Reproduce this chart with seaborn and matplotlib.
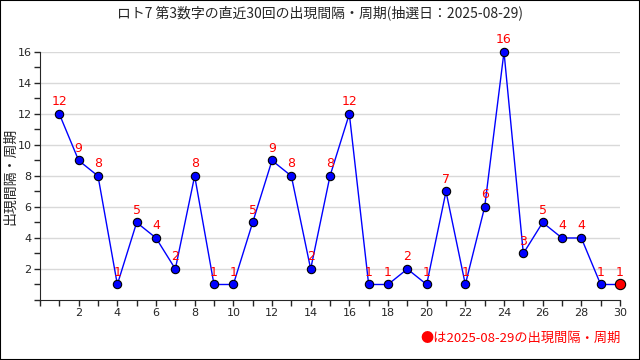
import pandas as pd
import matplotlib.pyplot as plt
import seaborn as sns
from matplotlib.ticker import MultipleLocator

sns.set_style("ticks")
plt.rcParams['font.family'] = ['Noto Sans CJK JP', 'DejaVu Sans']

# data
draws = list(range(1, 31))
intervals = [12, 9, 8, 1, 5, 4, 2, 8, 1, 1, 5, 9, 8, 2, 8, 12, 1, 1, 2, 1,
             7, 1, 6, 16, 3, 5, 4, 4, 1, 1]
title = "ロト7 第3数字の直近30回の出現間隔・周期(抽選日：2025-08-29)"
ylabel = "出現間隔・周期"
note = "●は2025-08-29の出現間隔・周期"

df = pd.DataFrame({'draw': draws, 'interval': intervals})

fig = plt.figure(figsize=(6.4, 3.6), dpi=100)
ax = fig.add_axes([0.0625, 0.1667, 0.90625, 0.6889])

sns.lineplot(data=df, x='draw', y='interval', ax=ax, color='blue', linewidth=1,
             marker='o', markersize=6, markerfacecolor='blue',
             markeredgecolor='black', markeredgewidth=0.8, clip_on=False)
last = df.iloc[[-1]]
ax.scatter(last['draw'], last['interval'], s=55, color='red',
           edgecolor='black', linewidth=0.8, zorder=5, clip_on=False)

for x, y in zip(draws, intervals):
    ax.annotate(str(y), (x, y), xytext=(0, 4), textcoords='offset points',
                ha='center', va='bottom', color='red', fontsize=9,
                family='DejaVu Sans', annotation_clip=False)

ax.set_xlim(0, 30)
ax.set_ylim(0, 16)
ax.xaxis.set_minor_locator(MultipleLocator(1))
ax.yaxis.set_minor_locator(MultipleLocator(1))
ax.set_yticks(range(2, 17, 2))
ax.set_xticks(range(2, 31, 2))
ax.tick_params(axis='both', which='major', length=4, labelsize=8, width=1, pad=2)
ax.tick_params(axis='both', which='minor', length=4, width=1)
ax.grid(axis='y', which='major', color='#d9d9d9', linewidth=1)
ax.set_axisbelow(True)
for lab in ax.get_xticklabels() + ax.get_yticklabels():
    lab.set_family('DejaVu Sans')

sns.despine(ax=ax)
ax.set_xlabel('')
ax.set_ylabel(ylabel, fontsize=10)
ax.yaxis.set_label_coords(-0.04, 0.5)

fig.text(0.5, 0.965, title, ha='center', va='center', fontsize=10)
fig.text(0.97, 0.06, note, ha='right', va='center', fontsize=9.5, color='red')
fig.patches.append(plt.Rectangle((0, 0), 1, 1, transform=fig.transFigure,
                                 fill=False, edgecolor='black', linewidth=1.5))

fig.savefig('out.png', dpi=100)
